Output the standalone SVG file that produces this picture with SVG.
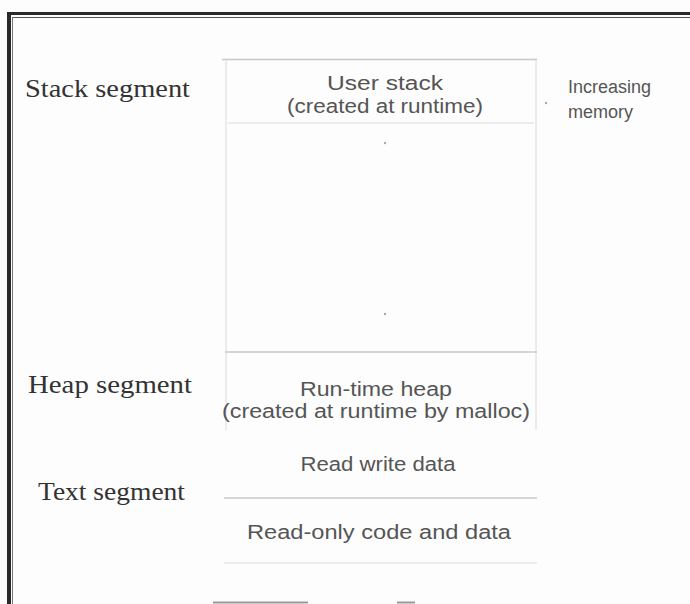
<svg xmlns="http://www.w3.org/2000/svg" width="690" height="604" viewBox="0 0 690 604">
<style>
.seg{font-family:"Liberation Serif","Times New Roman",serif;font-size:26px;fill:#333}
.lbl{font-family:"Liberation Sans",Arial,sans-serif;font-size:20px;fill:#555;text-anchor:middle}
.side{font-family:"Liberation Sans",Arial,sans-serif;font-size:18px;fill:#555}
.faint{stroke:#c8c8c8;stroke-width:1.5;fill:none}
.vfaint{stroke:#e6e6e6;stroke-width:1.5;fill:none}
</style>
<rect width="690" height="604" fill="#fdfdfd"/>
<g id="frame">
<line x1="7" y1="13.5" x2="690" y2="13.5" stroke="#2a2a2a" stroke-width="3"/>
<line x1="12" y1="17.5" x2="690" y2="17.5" stroke="#555" stroke-width="1"/>
<line x1="9" y1="12" x2="9" y2="604" stroke="#2a2a2a" stroke-width="4"/>
<line x1="12.5" y1="17" x2="12.5" y2="604" stroke="#777" stroke-width="1"/>
<line x1="213" y1="602.5" x2="308" y2="602.5" stroke="#999" stroke-width="2"/>
<line x1="397" y1="602.5" x2="415" y2="602.5" stroke="#999" stroke-width="2"/>
</g>
<g id="labels">
<text class="seg" x="25" y="97" textLength="165" lengthAdjust="spacingAndGlyphs">Stack segment</text>
<text class="seg" x="28" y="393" textLength="164" lengthAdjust="spacingAndGlyphs">Heap segment</text>
<text class="seg" x="38" y="500" textLength="147" lengthAdjust="spacingAndGlyphs">Text segment</text>
</g>
<g id="memory">
<line class="faint" x1="222" y1="59.5" x2="537" y2="59.5"/>
<line class="vfaint" x1="536" y1="60" x2="536" y2="430"/>
<line class="vfaint" x1="226" y1="60" x2="226" y2="430"/>
<line class="vfaint" x1="228" y1="123" x2="534" y2="123"/>
<line class="faint" x1="225" y1="352" x2="537" y2="352"/>
<line class="faint" x1="224" y1="498" x2="537" y2="498"/>
<line class="vfaint" x1="224" y1="563" x2="537" y2="563"/>
</g>
<g id="stack">
<text class="lbl" x="385" y="90" textLength="116" lengthAdjust="spacingAndGlyphs">User stack</text>
<text class="lbl" x="385" y="113" textLength="196" lengthAdjust="spacingAndGlyphs">(created at runtime)</text>
<circle cx="385" cy="143" r="1.2" fill="#aaa"/>
<circle cx="385" cy="314" r="1.2" fill="#aaa"/>
</g>
<g id="heap">
<text class="lbl" x="376" y="396" textLength="152" lengthAdjust="spacingAndGlyphs">Run-time heap</text>
<text class="lbl" x="376" y="418" textLength="308" lengthAdjust="spacingAndGlyphs">(created at runtime by malloc)</text>
</g>
<g id="rwdata">
<text class="lbl" x="378" y="471" textLength="155" lengthAdjust="spacingAndGlyphs">Read write data</text>
</g>
<g id="rodata">
<text class="lbl" x="379" y="539" textLength="264" lengthAdjust="spacingAndGlyphs">Read-only code and data</text>
</g>
<g id="increasing">
<circle cx="546" cy="103" r="1.2" fill="#aaa"/>
<text class="side" x="568" y="93">Increasing</text>
<text class="side" x="568" y="118">memory</text>
</g>
<g id="connectors"></g>
</svg>
